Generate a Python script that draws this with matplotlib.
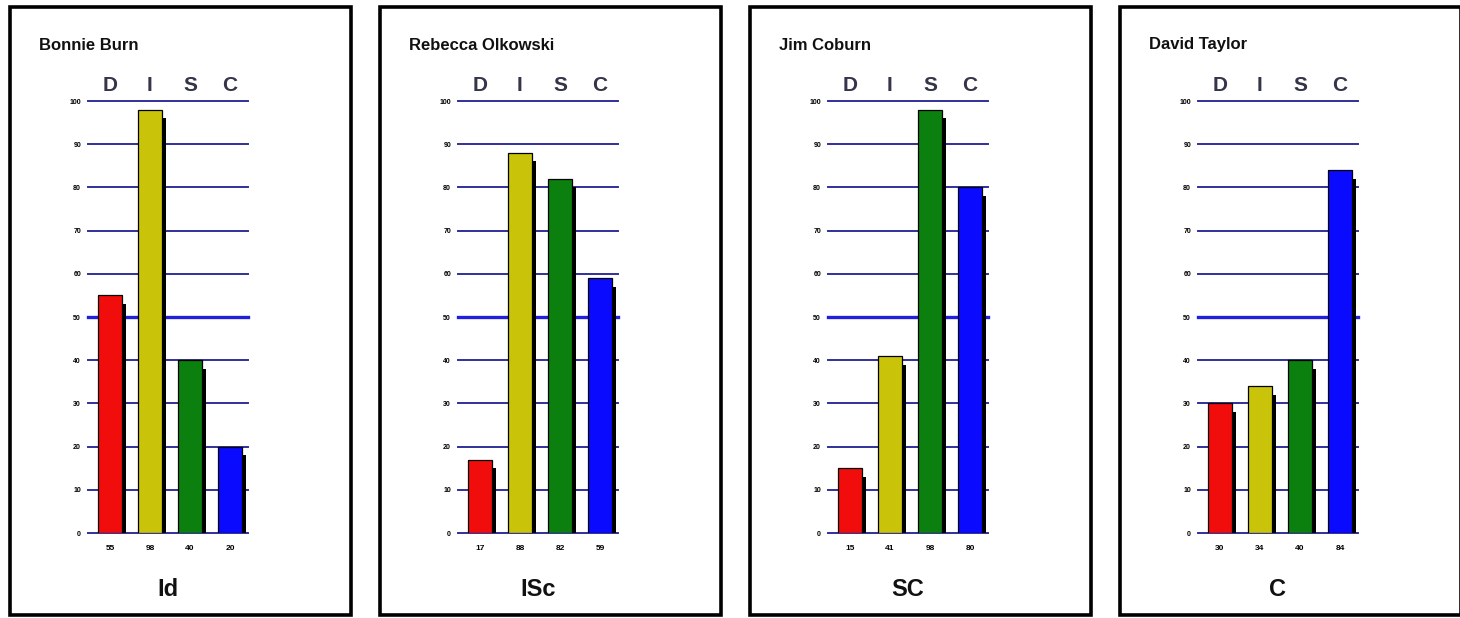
import matplotlib
matplotlib.use("Agg")
import matplotlib.pyplot as plt
from matplotlib.patches import Rectangle

names = ["Bonnie Burn", "Rebecca Olkowski", "Jim Coburn", "David Taylor"]
styles = ["Id", "ISc", "SC", "C"]
letters = ["D", "I", "S", "C"]
d_vals = [55, 17, 15, 30]
i_vals = [98, 88, 41, 34]
s_vals = [40, 82, 98, 40]
c_vals = [20, 59, 80, 84]
yticks = list(range(0, 101, 10))

bar_colors = ["#f20d0d", "#c9c40a", "#0b800f", "#0a0aff"]
grid_color = "#30309a"
mid_color = "#1f1fdc"

W, H = 1460, 618
fig = plt.figure(figsize=(W / 100, H / 100), dpi=100)
fig.patch.set_facecolor("white")
plt.rcParams["font.family"] = ["Liberation Sans", "DejaVu Sans"]

def fx(px):
    return px / W

def fy(py):
    return 1 - py / H

for p in range(4):
    x0 = 10 + 370 * p
    # panel frame
    fig.patches.append(Rectangle((fx(x0), fy(615)), fx(341), (615 - 7) / H,
                                 transform=fig.transFigure, fill=False,
                                 edgecolor="black", linewidth=2.6, zorder=0))
    fig.text(fx(x0 + 29), fy(45), names[p], fontsize=12, fontweight="bold",
             ha="left", va="center", color="#111111")

    ax = fig.add_axes([fx(x0 + 78), fy(533), fx(160), (533 - 101) / H])
    ax.set_xlim(-0.55, 3.45)
    ax.set_ylim(0, 100)
    for s in ax.spines.values():
        s.set_visible(False)
    ax.patch.set_alpha(0)

    for yv in yticks:
        if yv == 50:
            ax.axhline(yv, color=mid_color, lw=2.4, zorder=1, clip_on=False)
        else:
            ax.axhline(yv, color=grid_color, lw=1.4, zorder=1, clip_on=False)

    vals = [d_vals[p], i_vals[p], s_vals[p], c_vals[p]]
    xs = list(range(4))
    ax.bar([x + 0.1 for x in xs], [v - 2 for v in vals], width=0.6,
           color="black", zorder=2)
    ax.bar(xs, vals, width=0.6, color=bar_colors, edgecolor="black",
           linewidth=0.9, zorder=3)

    ax.set_yticks(yticks)
    ax.set_yticklabels([str(t) for t in yticks], fontsize=5, fontweight="bold")
    ax.set_xticks(xs)
    ax.set_xticklabels([str(v) for v in vals], fontsize=6, fontweight="bold")
    ax.tick_params(length=0, axis="y", pad=5)
    ax.tick_params(length=0, axis="x", pad=9)

    for x, l in zip(xs, letters):
        ax.text(x, 101.5, l, ha="center", va="bottom", fontsize=15,
                fontweight="bold", color="#34344a", clip_on=False)

    fig.text(fx(x0 + 158), fy(590), styles[p], fontsize=17, fontweight="bold",
             ha="center", va="center", color="#111111")

fig.savefig("out.png", dpi=100, facecolor="white")
